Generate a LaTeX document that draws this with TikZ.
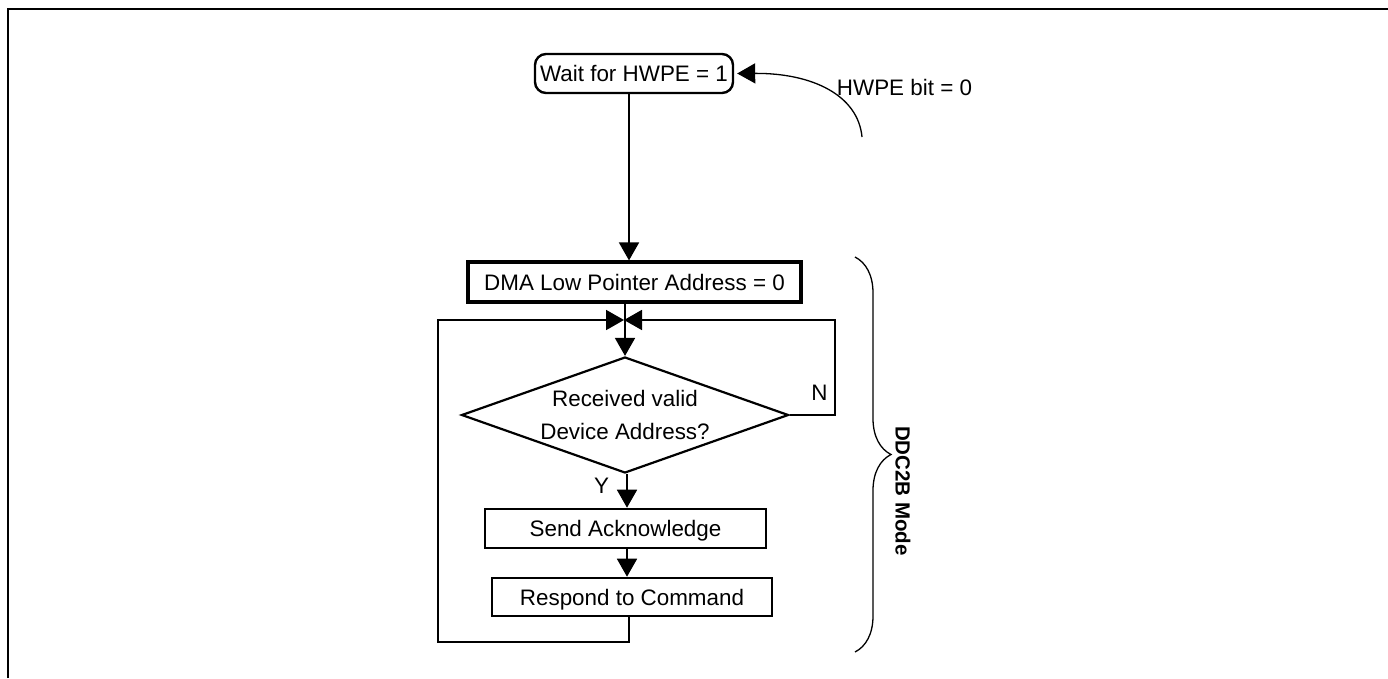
\documentclass[tikz,border=0pt]{standalone}
\usepackage{fontspec}
\setmainfont{Liberation Sans}
\usetikzlibrary{arrows.meta,shapes.geometric,decorations.pathreplacing,calc}
\begin{document}
\begin{tikzpicture}[x=1pt,y=-1pt,
  font=\fontsize{22.4}{26}\selectfont,
  conn/.style={line width=1.8pt},
  arr/.style={conn,-{Triangle[length=18pt,width=20pt]}},
  procbox/.style={draw,rectangle,line width=2.6pt,inner sep=0pt,text height=16pt,text depth=0pt},
  lbl/.style={inner sep=0pt,text height=16pt,text depth=0pt}
]
\useasboundingbox (0,0) rectangle (1388,678);
\draw[line width=2.8pt] (8,678) -- (8,9) -- (1388,9);

% nodes
\node[procbox,rounded corners=11pt,line width=2.4pt,minimum width=198pt,minimum height=39pt] (start) at (634,73.5) {Wait for HWPE = 1};
\node[procbox,line width=3.2pt,minimum width=333pt,minimum height=40pt] (dma) at (634.5,282) {DMA Low Pointer Address = 0};
\node[draw,diamond,line width=2.2pt,inner sep=0pt,aspect=2.8,minimum width=327pt,minimum height=116pt,align=center,font=\fontsize{22.4}{33}\selectfont] (dia) at (625,415) {Received valid\\Device Address?};
\node[procbox,minimum width=281pt,minimum height=39pt] (ack) at (625.5,528.5) {Send Acknowledge};
\node[procbox,minimum width=280pt,minimum height=38pt] (resp) at (632,597) {Respond to Command};

\node[lbl] (hw) at (904.5,87.5) {HWPE bit = 0};
\node[lbl] (nlab) at (819.5,392.5) {N};
\node[lbl] (ylab) at (601.5,485.5) {Y};
\node[rotate=-90,inner sep=0pt,font=\fontsize{20.5}{24}\selectfont\bfseries] (mode) at (903,491) {DDC2B Mode};

\coordinate (jl) at (624,320);
\coordinate (lc) at (438,642);
\coordinate (nr) at (835,320);
\coordinate (cs) at (862,137);

% connectors
\draw[arr] ([xshift=-5pt]start.south) -- ([xshift=-5pt]start.south |- dma.north);
\draw[arr] (dma.south -| dia.north) -- (dia.north);
\draw[arr] ([xshift=-3pt]resp.south) |- (lc) |- (jl);
\draw[arr] (dia.east) -| (nr) -- (jl);
\draw[arr] ([xshift=2pt]dia.south) -- ([xshift=2pt]dia.south |- ack.north);
\draw[arr] ([xshift=1.5pt]ack.south) -- ([xshift=1.5pt]ack.south |- resp.north);
\draw[arr,line width=1.3pt] (cs) .. controls (858,95) and (812,73) .. ([xshift=3pt]start.east);

% brace
\draw[line width=1.3pt,decorate,decoration={brace,amplitude=36pt,aspect=0.5}] (855,257) -- (855,652);
\end{tikzpicture}
\end{document}
